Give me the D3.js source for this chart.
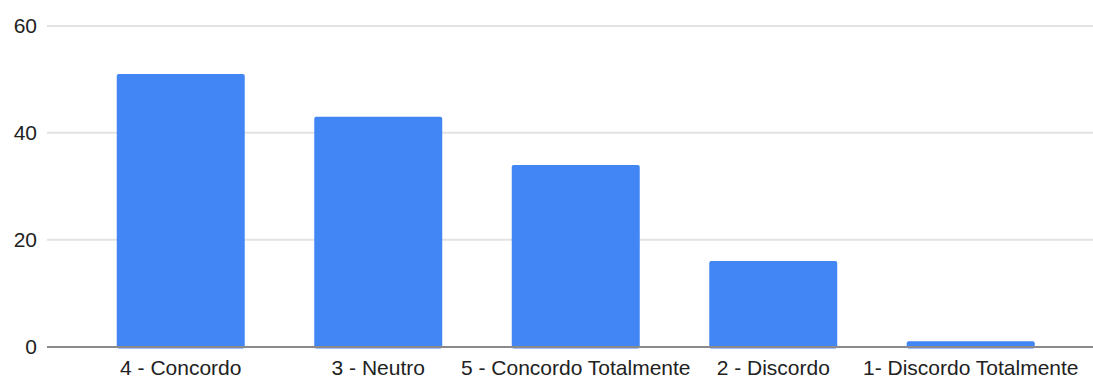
<!DOCTYPE html>
<html>
<head>
<meta charset="utf-8">
<script src="https://cdn.jsdelivr.net/npm/d3@7"></script>
<style>
  html, body { margin: 0; padding: 0; background: #fff; }
  svg { display: block; }
  text { font-family: "Liberation Sans", Arial, Helvetica, sans-serif; fill: #222; }
</style>
</head>
<body>
<svg id="chart" width="1093" height="377"></svg>
<script>
// Responses per answer option
const categories = ["4 - Concordo", "3 - Neutro", "5 - Concordo Totalmente", "2 - Discordo", "1- Discordo Totalmente"];
const counts = [51, 43, 34, 16, 1];
const yTicks = [0, 20, 40, 60];

const width = 1093, height = 377;
const svg = d3.select("#chart");

const y = d3.scaleLinear().domain([0, 60]).range([346.5, 26]);
const x = d3.scaleBand()
  .domain(categories)
  .range([82, 1069.5])
  .paddingInner(0.352)
  .paddingOuter(0.176);

// Horizontal gridlines
svg.append("g")
  .selectAll("line")
  .data(yTicks.filter(d => d !== 0))
  .join("line")
  .attr("x1", 47).attr("x2", width)
  .attr("y1", d => y(d)).attr("y2", d => y(d))
  .attr("stroke", "#e3e3e3")
  .attr("stroke-width", 2);

// Y axis labels
const yAxis = d3.axisLeft(y).tickValues(yTicks).tickSize(0).tickPadding(0);
svg.append("g")
  .attr("transform", "translate(37,0)")
  .call(yAxis)
  .call(g => g.select(".domain").remove())
  .call(g => g.selectAll("text")
    .attr("font-size", 21)
    .attr("fill", "#222")
    .attr("font-family", "\"Liberation Sans\", Arial, sans-serif"));

// Bars
svg.append("g")
  .selectAll("rect")
  .data(categories.map((c, i) => ({ c, v: counts[i] })))
  .join("rect")
  .attr("x", d => x(d.c))
  .attr("width", x.bandwidth())
  .attr("y", d => y(d.v))
  .attr("height", d => y(0) - y(d.v) + 2)
  .attr("rx", 2)
  .attr("fill", "#4285f4");

// Baseline
svg.append("line")
  .attr("x1", 47).attr("x2", width)
  .attr("y1", y(0) + 0.5).attr("y2", y(0) + 0.5)
  .attr("stroke", "#8a8a8a")
  .attr("stroke-width", 2);

// X axis labels
const xAxis = d3.axisBottom(x).tickSize(0).tickPadding(0);
svg.append("g")
  .attr("transform", `translate(0,${y(0)})`)
  .call(xAxis)
  .call(g => g.select(".domain").remove())
  .call(g => g.selectAll("text")
    .attr("dy", null)
    .attr("y", 28)
    .attr("font-size", 21)
    .attr("fill", "#222")
    .attr("font-family", "\"Liberation Sans\", Arial, sans-serif"));
</script>
</body>
</html>
